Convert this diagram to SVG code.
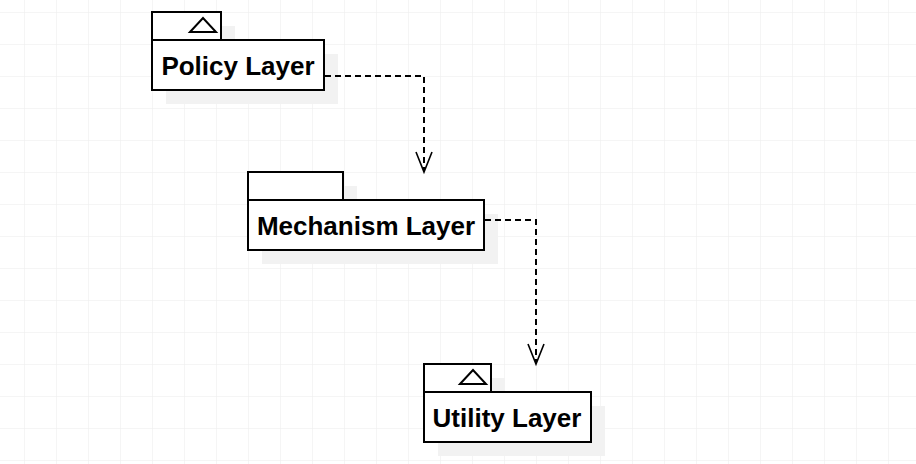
<svg xmlns="http://www.w3.org/2000/svg" width="916" height="464" viewBox="0 0 916 464">
<defs>
<pattern id="grid" x="24" y="12" width="32" height="32" patternUnits="userSpaceOnUse">
<path d="M0 0H32M0 0V32" fill="none" stroke="#ebebeb" stroke-width="1"/>
</pattern>
<style>
.box{fill:#fff;stroke:#000;stroke-width:2}
.shadow{fill:#f2f2f2}
.lbl{font-family:"Liberation Sans",Arial,sans-serif;font-weight:bold;font-size:26px;fill:#000;text-anchor:middle;dominant-baseline:central}
.tri{fill:none;stroke:#000;stroke-width:2}
.edge{fill:none;stroke:#000;stroke-width:2;stroke-dasharray:6 4}
.head{fill:none;stroke:#000;stroke-width:1.6}
</style>
</defs>
<rect width="916" height="464" fill="#fff"/>
<rect width="916" height="464" fill="url(#grid)"/>
<g id="policy">
<rect class="shadow" x="166" y="26" width="69" height="28"/>
<rect class="shadow" x="166" y="54" width="172" height="50"/>
<rect class="box" x="152" y="12" width="69" height="28"/>
<rect class="box" x="152" y="40" width="172" height="50"/>
<path class="tri" d="M190 32L203 18L216 32Z"/>
<text class="lbl" x="238" y="66">Policy Layer</text>
</g>
<g id="mechanism">
<rect class="shadow" x="262" y="186" width="95" height="28"/>
<rect class="shadow" x="262" y="214" width="236" height="50"/>
<rect class="box" x="248" y="172" width="95" height="28"/>
<rect class="box" x="248" y="200" width="236" height="50"/>
<text class="lbl" x="366" y="226">Mechanism Layer</text>
</g>
<g id="utility">
<rect class="shadow" x="438" y="378" width="67" height="28"/>
<rect class="shadow" x="438" y="406" width="167" height="50"/>
<rect class="box" x="424" y="364" width="67" height="28"/>
<rect class="box" x="424" y="392" width="167" height="50"/>
<path class="tri" d="M460 384L473 370L486 384Z"/>
<text class="lbl" x="507" y="418">Utility Layer</text>
</g>
<g id="connectors">
<path class="edge" d="M325 76H424V170"/>
<path class="head" d="M416 152L424 172L432 152"/>
<path class="edge" d="M485 220H536V362"/>
<path class="head" d="M528 344L536 364L544 344"/>
</g>
</svg>
